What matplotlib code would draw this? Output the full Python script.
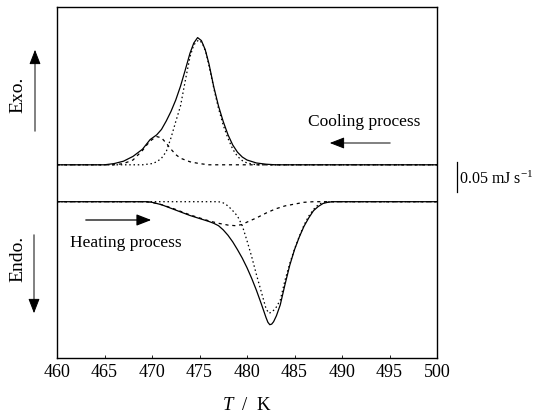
import matplotlib
matplotlib.use('Agg')
import matplotlib.pyplot as plt

plt.rcParams['font.family'] = ['Liberation Serif', 'DejaVu Serif']
plt.rcParams['mathtext.fontset'] = 'custom'
plt.rcParams['mathtext.rm'] = 'Liberation Serif'
plt.rcParams['mathtext.it'] = 'Liberation Serif:italic'

W, H = 555, 420

# --- cooling run (exothermic, drawn upward from its baseline), mJ/s ---
cool_T = [460, 465, 466, 467, 468, 469, 469.8, 470.5, 471, 471.5, 472, 472.5,
          473, 473.5, 474, 474.4, 474.8, 475.2, 475.6, 476, 476.5, 477, 477.5,
          478, 478.5, 479, 479.5, 480, 481, 482, 483, 490, 500]
cool_total = [0, 0, 0.002, 0.006, 0.014, 0.026, 0.042, 0.050, 0.059, 0.073, 0.089,
              0.108, 0.131, 0.158, 0.186, 0.203, 0.212, 0.207, 0.192, 0.168, 0.130,
              0.098, 0.072, 0.050, 0.033, 0.021, 0.013, 0.008, 0.003, 0.001, 0, 0, 0]

cool_main_T = [460, 469, 470, 470.5, 471, 471.5, 472, 472.5, 473, 473.5, 474, 474.4,
               474.9, 475.3, 475.7, 476, 476.5, 477, 477.5, 478, 478.5, 479, 479.5,
               480, 481, 490, 500]
cool_main = [0, 0, 0.002, 0.005, 0.011, 0.022, 0.045, 0.072, 0.098, 0.140, 0.180,
             0.200, 0.208, 0.203, 0.186, 0.165, 0.128, 0.094, 0.066, 0.044, 0.026,
             0.014, 0.007, 0.003, 0, 0, 0]

cool_shoulder_T = [460, 466, 467, 468, 469, 469.5, 470, 470.5, 471, 471.5, 472,
                   472.5, 473, 474, 475, 476, 490, 500]
cool_shoulder = [0, 0, 0.002, 0.008, 0.024, 0.034, 0.042, 0.047, 0.045, 0.036,
                 0.026, 0.017, 0.011, 0.005, 0.002, 0, 0, 0]

# --- heating run (endothermic, drawn downward from its baseline), mJ/s ---
heat_T = [460, 469, 469.5, 470, 471, 472, 473, 474, 475, 476, 476.5, 477, 477.5,
          478, 478.5, 479, 479.5, 480, 480.5, 481, 481.5, 482, 482.2, 482.4, 482.6,
          482.8, 483.1, 483.5, 484, 484.5, 485, 485.5, 486, 486.5, 487, 487.5, 488,
          488.5, 489, 495, 500]
heat_total = [0, 0, 0, 0.001, 0.005, 0.011, 0.017, 0.023, 0.028, 0.033, 0.036,
              0.040, 0.047, 0.056, 0.067, 0.080, 0.094, 0.110, 0.128, 0.148, 0.170,
              0.193, 0.201, 0.205, 0.204, 0.200, 0.190, 0.172, 0.138, 0.106, 0.080,
              0.059, 0.041, 0.027, 0.015, 0.008, 0.003, 0.001, 0, 0, 0]

heat_broad_T = [460, 469, 470, 471, 472, 473, 474, 475, 476, 477, 478, 478.8, 479.5,
                480, 481, 482, 483, 484, 485, 486, 487, 500]
heat_broad = [0, 0, 0.001, 0.005, 0.010, 0.016, 0.022, 0.027, 0.032, 0.036, 0.039,
              0.040, 0.038, 0.034, 0.027, 0.019, 0.012, 0.007, 0.004, 0.001, 0, 0]

heat_main_T = [460, 477, 477.5, 478, 478.5, 479, 479.5, 480, 480.5, 481, 481.5, 482,
               482.3, 482.6, 483, 483.5, 484, 484.5, 485, 485.5, 486, 486.5, 487,
               487.5, 488, 489, 500]
heat_main = [0, 0, 0.002, 0.007, 0.015, 0.024, 0.040, 0.065, 0.092, 0.122, 0.150,
             0.178, 0.186, 0.184, 0.178, 0.164, 0.131, 0.103, 0.079, 0.058, 0.039,
             0.024, 0.013, 0.005, 0.001, 0, 0]

cool_base = 0.322
heat_base = 0.2605
xticks = [460, 465, 470, 475, 480, 485, 490, 495, 500]


def fx(px):
    return px / W


def fy(py):
    return 1 - py / H


fig = plt.figure(figsize=(5.55, 4.2), dpi=100)
ax = fig.add_axes([fx(57), fy(358), fx(437) - fx(57), fy(7) - fy(358)])

lw = 0.9
dot = (0, (1.2, 2.2))
dash = (0, (2.5, 3))

ax.plot(cool_T, [cool_base + v for v in cool_total], color='black', lw=lw)
ax.plot(cool_main_T, [cool_base + v for v in cool_main], color='black', lw=lw, ls=dot)
ax.plot(cool_shoulder_T, [cool_base + v for v in cool_shoulder], color='black',
        lw=lw, ls=dash)

ax.plot(heat_T, [heat_base - v for v in heat_total], color='black', lw=lw)
ax.plot(heat_main_T, [heat_base - v for v in heat_main], color='black', lw=lw, ls=dot)
ax.plot(heat_broad_T, [heat_base - v for v in heat_broad], color='black',
        lw=lw, ls=dash)

ax.set_xlim(460, 500)
ax.set_ylim(0, 351 / 600)
ax.set_xticks(xticks)
ax.set_xticklabels([str(t) for t in xticks], fontsize=13)
ax.tick_params(axis='x', direction='in', length=2, width=0.6, pad=4)
ax.set_yticks([])
for s in ax.spines.values():
    s.set_linewidth(1.0)

# scale bar (0.05 mJ/s)
ax.plot([502.1, 502.1], [0.2767, 0.3267], color='black', lw=0.9, clip_on=False)
ax.text(502.35, 0.297, '0.05 mJ s$^{-1}$', fontsize=11.5, va='center', ha='left',
        clip_on=False)

# process labels and arrows
fig.text(fx(364), fy(122), 'Cooling process', fontsize=12.5, ha='center', va='center')
fig.add_artist(matplotlib.patches.FancyArrowPatch(
    (fx(393), fy(143)), (fx(327), fy(143)), transform=fig.transFigure,
    arrowstyle='-|>,head_length=0.9,head_width=0.35', color='black', lw=0.7,
    mutation_scale=10))

fig.text(fx(126), fy(243), 'Heating process', fontsize=12.5, ha='center', va='center')
fig.add_artist(matplotlib.patches.FancyArrowPatch(
    (fx(83), fy(220)), (fx(154), fy(220)), transform=fig.transFigure,
    arrowstyle='-|>,head_length=0.9,head_width=0.35', color='black', lw=0.9,
    mutation_scale=10))

fig.text(fx(18), fy(95), 'Exo.', fontsize=14, rotation=90, ha='center', va='center')
fig.add_artist(matplotlib.patches.FancyArrowPatch(
    (fx(35), fy(134)), (fx(35), fy(47)), transform=fig.transFigure,
    arrowstyle='-|>,head_length=0.9,head_width=0.35', color='black', lw=0.7,
    mutation_scale=10))

fig.text(fx(18), fy(259), 'Endo.', fontsize=14, rotation=90, ha='center', va='center')
fig.add_artist(matplotlib.patches.FancyArrowPatch(
    (fx(34), fy(232)), (fx(34), fy(316)), transform=fig.transFigure,
    arrowstyle='-|>,head_length=0.9,head_width=0.35', color='black', lw=0.7,
    mutation_scale=10))

fig.text(fx(247), fy(405), '$T$  /  K', fontsize=13.5, ha='center', va='center')

fig.savefig('out.png', dpi=100)
